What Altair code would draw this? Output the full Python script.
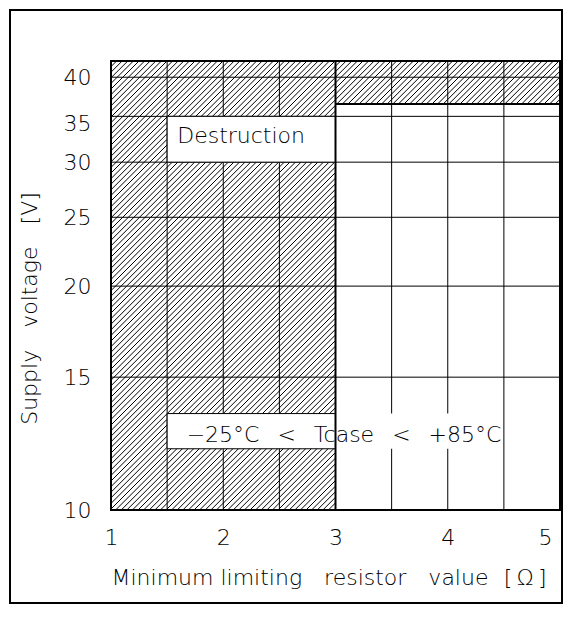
import altair as alt
import numpy as np
import pandas as pd

# ---------------- values ----------------
x_tick_values = [1, 2, 3, 4, 5]
x_grid_values = [1.5, 2, 2.5, 3.5, 4, 4.5]
y_tick_values = [10, 15, 20, 25, 30, 35, 40]
y_grid_values = [15, 20, 25, 30, 35, 40]

x_domain = [1, 5]
v_domain = [10, 42.3]
v_exponent = -0.1  # the voltage axis is compressed slightly more than a log axis

limit_resistor = 3.0   # ohm: left hatched (destruction) area ends here
limit_voltage = 36.5   # V: upper hatched area for R > 3 ohm starts here

# white label boxes (framed part inside hatching)
box_x = [1.5, 1.5]
box_x2 = [3.0, 3.0]
box_v = [30, 12.03]
box_v2 = [35, 13.4]
# unframed continuation of the lower box in the white area
open_x = [3.0]
open_x2 = [4.47]
open_v = [12.03]
open_v2 = [13.4]

label_text = ["Destruction", "\u221225°C\u2002\u00a0<\u2002\u00a0Tcase\u2002\u00a0<\u2002\u00a0+85°C"]
label_x = [1.59, 1.674]
label_v = [32, 12.3]

x_title = "Minimum limiting\u2003resistor\u2003value\u2002\u2009[\u2009\u03a9\u2009]"
y_title = "Supply\u2003voltage\u2003[V]"

FONT = "DejaVu Sans"
W = H = 449

# ---------------- hatch texture (45 degree lines, in data space) ----------------
px_per_x = W / (x_domain[1] - x_domain[0])
a0 = v_domain[0] ** v_exponent
a1 = v_domain[1] ** v_exponent


def v_to_frac(v):
    return (a0 - v ** v_exponent) / (a0 - a1)


def frac_to_v(f):
    return (a0 - f * (a0 - a1)) ** (1 / v_exponent)


def x_to_px(x):
    return (x - x_domain[0]) * px_per_x


hatch_regions = [
    (x_domain[0], limit_resistor, v_domain[0], v_domain[1]),
    (limit_resistor, x_domain[1], limit_voltage, v_domain[1]),
]
hatch_period = 5.6
rows = []
for xa, xb, va, vb in hatch_regions:
    Xa, Xb = x_to_px(xa), x_to_px(xb)
    Ya, Yb = v_to_frac(va) * H, v_to_frac(vb) * H
    for c in np.arange(-H, W + hatch_period, hatch_period):
        ys_ = max(Ya, Xa - c)
        ye_ = min(Yb, Xb - c)
        if ye_ - ys_ > 0.3:
            rows.append({
                "x": x_domain[0] + (ys_ + c) / px_per_x,
                "v": frac_to_v(ys_ / H),
                "x2": x_domain[0] + (ye_ + c) / px_per_x,
                "v2": frac_to_v(ye_ / H),
            })
hatch = pd.DataFrame(rows)

# ---------------- scales / axes ----------------
xs = alt.Scale(domain=x_domain, nice=False, zero=False)
ys = alt.Scale(type="pow", exponent=v_exponent, domain=v_domain, nice=False, zero=False)

x_axis = alt.Axis(
    values=x_tick_values, title=x_title, grid=False, ticks=False, tickSize=0, domain=False,
    labelFont=FONT, labelFontSize=22, labelFontWeight=300, labelColor="black",
    labelBaseline="alphabetic", labelPadding=34,
    labelOffset={"condition": [{"test": "datum.value == 5", "value": -8},
                               {"test": "datum.value == 1", "value": -7}], "value": 0},
    titleFont=FONT, titleFontSize=22, titleFontWeight=300, titleColor="black",
    titleX=0, titleY=74, titleAlign="left", titleBaseline="alphabetic",
)
y_axis = alt.Axis(
    values=y_tick_values, title=y_title, grid=False, ticks=False, tickSize=0, domain=False,
    labelFont=FONT, labelFontSize=22, labelFontWeight=300, labelColor="black",
    labelPadding=20,
    labelOffset={"condition": {"test": "datum.value == 35", "value": 7}, "value": 0},
    titleFont=FONT, titleFontSize=22, titleFontWeight=300, titleColor="black",
    titleX=-75, titleY=247, titleAngle=270, titleAlign="center", titleBaseline="alphabetic",
)

X = lambda f="x": alt.X(f"{f}:Q", scale=xs, axis=x_axis)
Y = lambda f="v": alt.Y(f"{f}:Q", scale=ys, axis=y_axis)

hatch_layer = alt.Chart(hatch).mark_rule(color="black", strokeWidth=1, clip=True).encode(
    x=X(), x2="x2:Q", y=Y(), y2="v2:Q")

vgrid = alt.Chart(pd.DataFrame({"x": x_grid_values})).mark_rule(
    color="black", strokeWidth=1).encode(x=X())
hgrid = alt.Chart(pd.DataFrame({"v": y_grid_values})).mark_rule(
    color="black", strokeWidth=1).encode(y=Y())

boxes = alt.Chart(pd.DataFrame({"x": box_x, "x2": box_x2, "v": box_v, "v2": box_v2})).mark_rect(
    fill="white", stroke="black", strokeWidth=1).encode(x=X(), x2="x2:Q", y=Y(), y2="v2:Q")
open_box = alt.Chart(pd.DataFrame({"x": open_x, "x2": open_x2, "v": open_v, "v2": open_v2})).mark_rect(
    fill="white").encode(x=X(), x2="x2:Q", y=Y(), y2="v2:Q")

limit_v_line = alt.Chart(pd.DataFrame({"x": [limit_resistor]})).mark_rule(
    color="black", strokeWidth=2).encode(x=X())
limit_h_line = alt.Chart(pd.DataFrame({"x": [limit_resistor], "x2": [x_domain[1]], "v": [limit_voltage]})).mark_rule(
    color="black", strokeWidth=2).encode(x=X(), x2="x2:Q", y=Y())

plot_frame = alt.Chart(pd.DataFrame({"x": [x_domain[0]], "x2": [x_domain[1]],
                                     "v": [v_domain[0]], "v2": [v_domain[1]]})).mark_rect(
    fillOpacity=0, stroke="black", strokeWidth=2).encode(x=X(), x2="x2:Q", y=Y(), y2="v2:Q")

labels = alt.Chart(pd.DataFrame({"x": label_x, "v": label_v, "text": label_text})).mark_text(
    align="left", baseline="alphabetic", font=FONT, fontSize=22, fontWeight=300, color="black").encode(
    x=X(), y=Y(), text="text:N")

outer_frame = alt.Chart(pd.DataFrame({"a": [0]})).mark_rect(
    fillOpacity=0, stroke="black", strokeWidth=2, clip=False).encode(
    x=alt.value(-101), x2=alt.value(451), y=alt.value(-51), y2=alt.value(542))

chart = alt.layer(
    hatch_layer, vgrid, hgrid, boxes, open_box, limit_v_line, limit_h_line,
    plot_frame, labels, outer_frame,
).properties(
    width=W, height=H,
    autosize=alt.AutoSizeParams(type="none"),
    padding={"left": 103, "top": 53, "right": 3, "bottom": 95},
).configure_view(strokeWidth=0).configure(background="white")

chart.save("out.html", embed_options={"renderer": "svg", "actions": False})
